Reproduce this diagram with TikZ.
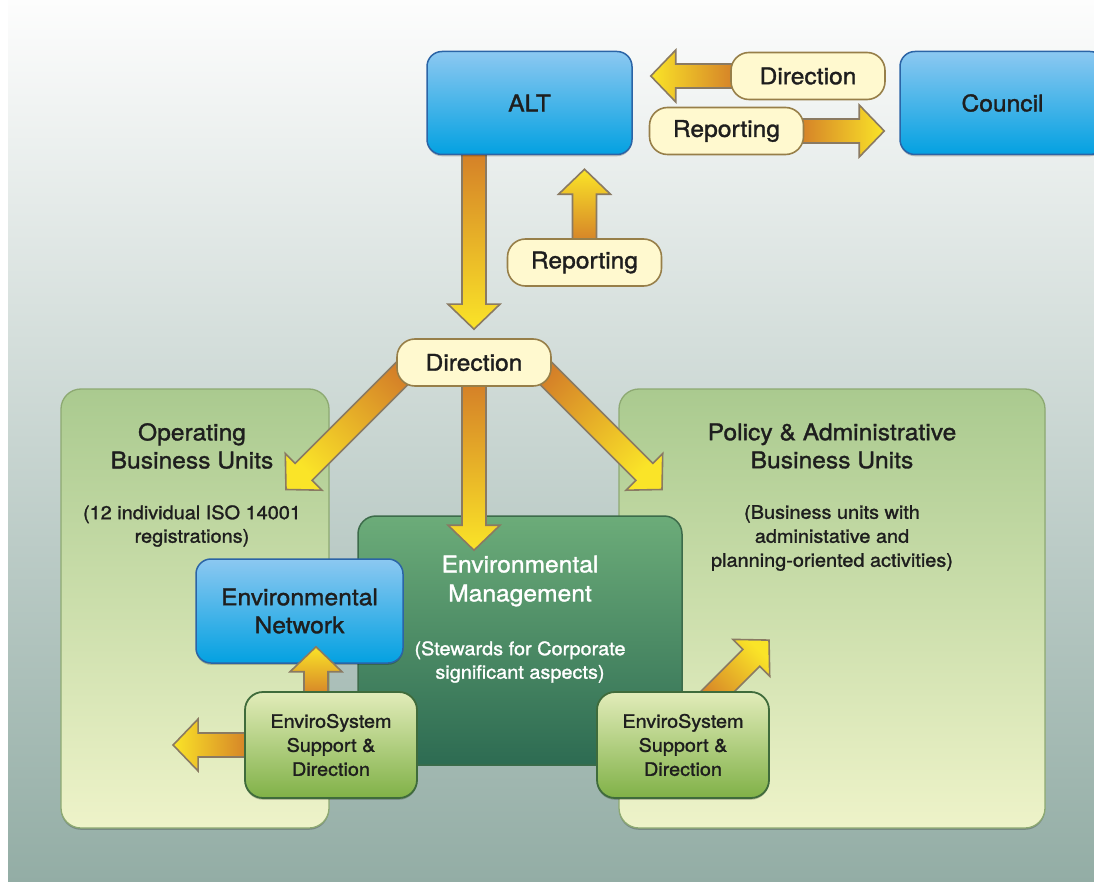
\documentclass[tikz,border=0pt]{standalone}
\usepackage{fontspec}
\setmainfont{TeX Gyre Heros}[FakeStretch=1.07, FakeBold=1.4]
\usetikzlibrary{calc,shadows}

\pgfdeclarelayer{back}
\pgfdeclarelayer{mid}
\pgfsetlayers{back,mid,main}

\definecolor{txt}{HTML}{1E1E1E}
\definecolor{bgtop}{HTML}{FDFDFD}
\definecolor{bgbot}{HTML}{93ADA5}
\definecolor{bluetop}{HTML}{8CC8F1}
\definecolor{bluebot}{HTML}{03A1E1}
\definecolor{blueline}{HTML}{2B64A6}
\definecolor{pillfill}{HTML}{FFF9CF}
\definecolor{pillline}{HTML}{977F49}
\definecolor{paneltop}{HTML}{AACA8F}
\definecolor{panelbot}{HTML}{EEF3C9}
\definecolor{panelline}{HTML}{8DA972}
\definecolor{mgmttop}{HTML}{6CAC79}
\definecolor{mgmtbot}{HTML}{2D6B52}
\definecolor{mgmtline}{HTML}{3C6B4A}
\definecolor{estop}{HTML}{E2ECBA}
\definecolor{esbot}{HTML}{80B147}
\definecolor{esline}{HTML}{3F6B3B}
\definecolor{arrowtip}{HTML}{FAE428}
\definecolor{arrowtail}{HTML}{D47F28}
\definecolor{arrowline}{HTML}{8A7A62}

\tikzset{
  lbl/.style={text=txt, align=center},
  bigfont/.style={font=\fontsize{23}{28}\selectfont},
  subfont/.style={font=\fontsize{18.6}{23.5}\selectfont},
  esfont/.style={font=\fontsize{18.5}{24}\selectfont},
  softshadow/.style={drop shadow={shadow xshift=0pt, shadow yshift=-1.8pt, fill=black, opacity=0.22}},
  bluebox/.style={rounded corners=15, draw=blueline, line width=1.5pt,
    top color=bluetop, bottom color=bluebot, inner sep=0pt, lbl, bigfont, softshadow},
  pill/.style={rounded corners=18, draw=pillline, line width=1.6pt,
    fill=pillfill, minimum width=154, minimum height=47, inner sep=0pt, lbl, bigfont},
  panel/.style={rounded corners=20, draw=panelline, line width=1.3pt,
    top color=paneltop, bottom color=panelbot, inner sep=0pt, softshadow},
  mgmtbox/.style={rounded corners=18, draw=mgmtline, line width=1.5pt,
    top color=mgmttop, bottom color=mgmtbot, inner sep=0pt},
  esbox/.style={rounded corners=18, draw=esline, line width=1.8pt,
    top color=estop, bottom color=esbot, minimum width=172, minimum height=106,
    inner sep=0pt, lbl, esfont, softshadow},
  fatarrow/.style={draw=arrowline, line width=1.6pt, line join=miter,
    top color=arrowtip, bottom color=arrowtail}
}

% Broad block arrow from coordinate #1 (tail) to coordinate #2 (tip)
\newcommand\blockarrow[2]{%
  \pgfmathanglebetweenpoints{\pgfpointanchor{#1}{center}}{\pgfpointanchor{#2}{center}}%
  \pgfmathsetmacro\arrowshade{\pgfmathresult-90}%
  \coordinate (ah) at ($(#2)!25pt!(#1)$);
  \path[fatarrow, shading angle=\arrowshade]
    ($(#1)!12pt!90:(#2)$) -- ($(ah)!12pt!90:(#2)$) -- ($(ah)!26pt!90:(#2)$)
    -- (#2) -- ($(ah)!26pt!-90:(#2)$) -- ($(ah)!12pt!-90:(#2)$)
    -- ($(#1)!12pt!-90:(#2)$) -- cycle;
}

\begin{document}
\begin{tikzpicture}[x=1pt, y=-1pt]
\useasboundingbox (0,0) rectangle (1094,882);

% ---------- background layer: backdrop, unit panels, management boxes
\begin{pgfonlayer}{back}
  \fill[top color=bgtop, bottom color=bgbot] (8,0) rectangle (1094,882);
  \node[panel, minimum width=268, minimum height=439] (opPanel) at (195,608.5) {};
  \node[panel, minimum width=426, minimum height=439] (polPanel) at (832,608.5) {};
  \node[mgmtbox, minimum width=324, minimum height=249] (mgmt) at (520,640.5) {};
  \node[bluebox, minimum width=207, minimum height=104] (envNet) at (299.5,611)
    {Environmental\\Network};
\end{pgfonlayer}

% ---------- top boxes, labels
\node[bluebox, minimum width=205, minimum height=103] (alt) at (529.5,103) {ALT};
\begin{scope}
  \clip (8,0) rectangle (1094,882);
  \node[bluebox, minimum width=205, minimum height=103] (council) at (1002.5,103) {Council};
\end{scope}

\node[pill] (dirTop) at (808,76) {Direction};
\node[pill] (repTop) at (726.5,131) {Reporting};
\node[pill] (repMid) at (584.5,262.5) {Reporting};
\node[pill] (dirMid) at (474,362.5) {Direction};

\node[esbox] (esL) at (331,745) {EnviroSystem\\Support \&\\Direction};
\node[esbox] (esR) at (683,745) {EnviroSystem\\Support \&\\Direction};

\node[lbl, bigfont] (opTitle) at (192,446) {Operating\\Business Units};
\node[lbl, subfont] (opSub) at (192,526) {(12 individual ISO 14001\\registrations)};
\node[lbl, bigfont] (polTitle) at (832,446) {Policy \& Administrative\\Business Units};
\node[lbl, subfont, font=\fontsize{18.6}{24}\selectfont] (polSub) at (832,538)
  {(Business units with\\administative and\\planning-oriented activities)};
\node[lbl, bigfont, text=white, font=\fontsize{23}{29}\selectfont] (mgmtTitle) at (520,581)
  {Environmental\\Management};
\node[lbl, subfont, text=white] (mgmtSub) at (520,662)
  {(Stewards for Corporate\\significant aspects)};

% ---------- arrow end points
\coordinate (a1s) at ($(dirTop.west)+(6,0)$);
\coordinate (a1e) at ($(alt.east |- dirTop.west)+(18,0)$);
\coordinate (a2s) at ($(repTop.east)+(-6,0)$);
\coordinate (a2e) at ($(council.west |- repTop.east)+(-15,0)$);
\coordinate (a3s) at ($(dirMid.center |- alt.south)+(0,-5)$);
\coordinate (a3e) at ($(dirMid.north)+(0,-9)$);
\coordinate (a4s) at ($(repMid.north)+(0,6)$);
\coordinate (a4e) at ($(repMid.center |- alt.south)+(0,14)$);
\coordinate (a5s) at ($(dirMid.center)+(-61,0)$);
\coordinate (a5e) at ($(dirMid.center)+(-188,127)$);
\coordinate (a6s) at ($(dirMid.center)+(61,0)$);
\coordinate (a6e) at ($(dirMid.center)+(188,127)$);
\coordinate (a7s) at ($(dirMid.south)+(0,-5)$);
\coordinate (a7e) at ($(dirMid.center |- mgmt.north)+(0,35)$);
\coordinate (a8s) at ($(esL.north)+(-15,6)$);
\coordinate (a8e) at ($(envNet.south -| esL.north)+(-15,-17)$);
\coordinate (a9s) at ($(esL.west)+(6,0)$);
\coordinate (a9e) at ($(esL.west)+(-71,0)$);
\coordinate (a10s) at ($(esR.north)+(22,13)$);
\coordinate (a10e) at ($(esR.north)+(86,-51)$);

% ---------- block arrows
\begin{pgfonlayer}{mid}
  \blockarrow{a1s}{a1e}
  \blockarrow{a2s}{a2e}
  \blockarrow{a3s}{a3e}
  \blockarrow{a4s}{a4e}
  \blockarrow{a5s}{a5e}
  \blockarrow{a6s}{a6e}
  \blockarrow{a7s}{a7e}
  \blockarrow{a8s}{a8e}
  \blockarrow{a9s}{a9e}
  \blockarrow{a10s}{a10e}
\end{pgfonlayer}
\end{tikzpicture}
\end{document}
